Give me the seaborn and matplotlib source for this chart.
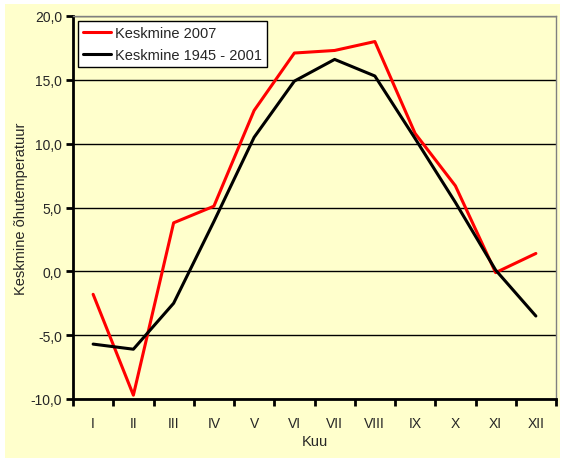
import matplotlib
matplotlib.use('Agg')
import matplotlib.pyplot as plt
import matplotlib.patches as mpatches
from matplotlib.ticker import FuncFormatter, FixedLocator
import pandas as pd
import seaborn as sns

months = ['I', 'II', 'III', 'IV', 'V', 'VI', 'VII', 'VIII', 'IX', 'X', 'XI', 'XII']
temp_2007 = [-1.8, -9.7, 3.8, 5.1, 12.6, 17.1, 17.3, 18.0, 10.8, 6.7, -0.1, 1.4]
temp_1945_2001 = [-5.7, -6.1, -2.5, 3.9, 10.5, 14.9, 16.6, 15.3, 10.4, 5.4, 0.1, -3.5]
series_names = ['Keskmine 2007', 'Keskmine 1945 - 2001']
yticks = [-10, -5, 0, 5, 10, 15, 20]

df = pd.DataFrame({
    'Kuu': months * 2,
    'temp': temp_2007 + temp_1945_2001,
    'series': [series_names[0]] * 12 + [series_names[1]] * 12,
})

sns.set_style('white')
plt.rcParams['font.family'] = ['Liberation Sans', 'DejaVu Sans']

fig = plt.figure(figsize=(5.65, 4.64), dpi=100, facecolor='white')
# kollane taust
fig.patches.append(mpatches.Rectangle((5 / 565, 5 / 464), 555 / 565, 454 / 464,
                                      transform=fig.transFigure, facecolor='#FFFFCC',
                                      edgecolor='none', zorder=-5))
ax = fig.add_axes([73 / 565, 1 - 400 / 464, 483 / 565, 383 / 464])
ax.set_facecolor('#FFFFCC')

sns.lineplot(data=df, x='Kuu', y='temp', hue='series', sort=False,
             palette={series_names[0]: '#FF0000', series_names[1]: '#000000'},
             linewidth=2.2, ax=ax, zorder=3)

ax.set_xlim(-0.5, 11.5)
ax.set_ylim(-10, 20)
ax.yaxis.set_major_locator(FixedLocator(yticks))
ax.yaxis.set_major_formatter(FuncFormatter(lambda v, p: f'{v:.1f}'.replace('.', ',')))
ax.grid(axis='y', color='black', linewidth=1)
ax.set_axisbelow(True)

ax.set_xticks(range(12))
ax.set_xticklabels(months)
ax.set_xticks([i - 0.5 for i in range(13)], minor=True)
ax.tick_params(axis='x', which='major', length=0, pad=12, labelsize=10)
ax.tick_params(axis='x', which='minor', length=5, width=2, color='black', direction='out')
ax.tick_params(axis='y', length=5, width=2, color='black', direction='out', labelsize=10, pad=3)
ax.tick_params(axis='both', bottom=True, left=True, which='both')

for s in ['left', 'bottom']:
    ax.spines[s].set_color('black')
    ax.spines[s].set_linewidth(2)
for s in ['top', 'right']:
    ax.spines[s].set_color('#808080')
    ax.spines[s].set_linewidth(1)

ax.set_xlabel('Kuu', fontsize=10.5, labelpad=3)
ax.set_ylabel('Keskmine õhutemperatuur', fontsize=10.5, labelpad=2)

leg = ax.legend(loc='upper left', bbox_to_anchor=(0.01, 0.987), borderaxespad=0,
                fontsize=10.5, frameon=True, fancybox=False, handlelength=1.9,
                handletextpad=0.3, borderpad=0.35, labelspacing=0.55)
leg.get_frame().set_edgecolor('black')
leg.get_frame().set_linewidth(1)
leg.get_frame().set_facecolor('white')
leg.get_frame().set_alpha(1)
leg.set_title(None)

fig.savefig('out.png', dpi=100, facecolor='white')
